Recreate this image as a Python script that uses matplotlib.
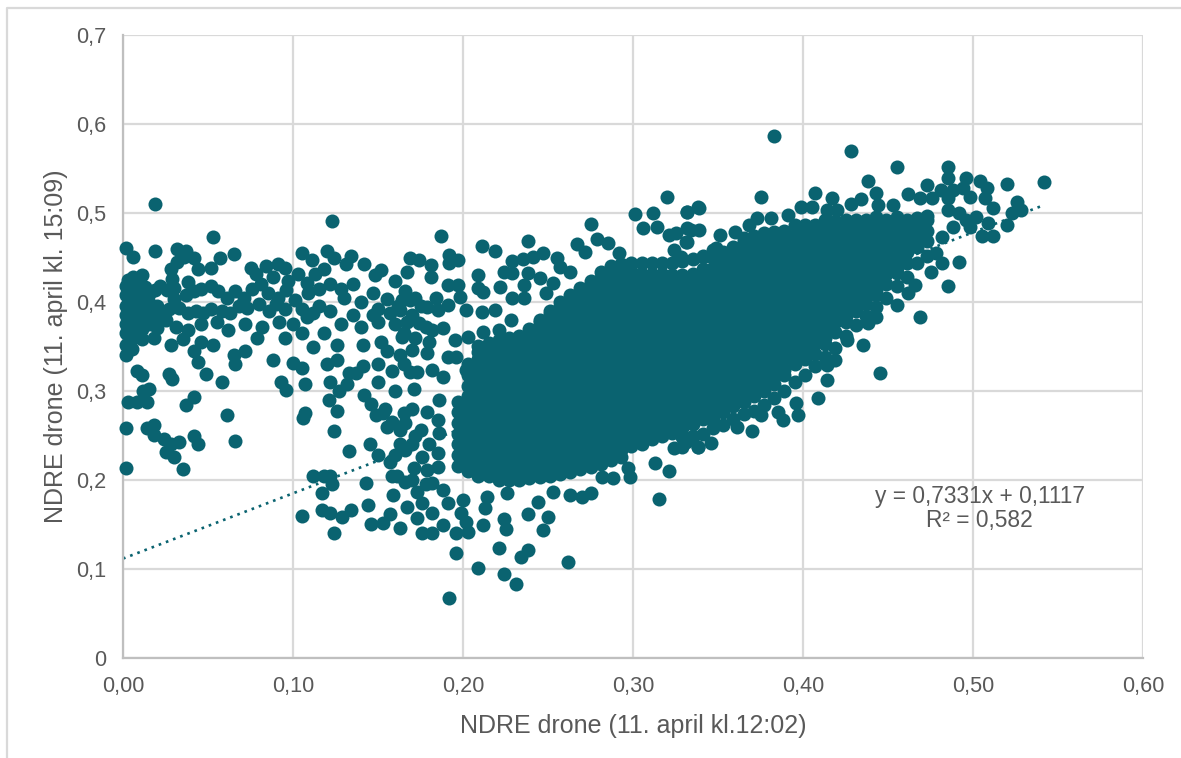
import matplotlib
matplotlib.use("Agg")
import matplotlib.pyplot as plt
from matplotlib.lines import Line2D

# All values in thousandths of NDRE
scattered = [
(19,510),(123,491),(2,461),(6,451),(19,457),(32,460),(37,457),(53,473),(57,450),(65,454),(42,449),(44,437),(52,438),(36,451),(32,445),(28,437),(29,426),(38,423),(30,416),(26,414),(22,418),(19,413),(15,409),(13,417),(11,430),(8,425),(6,428),(3,425),(2,418),(5,416),(9,412),(2,408),(6,402),(11,403),(2,395),(6,390),(11,393),(2,385),(7,382),(12,383),(2,375),(6,372),(11,370),(2,365),(6,360),(11,358),(2,352),(5,347),(2,341),(16,398),(20,395),(17,385),(22,383),(15,375),(20,371),(18,360),(27,392),(33,393),(38,388),(43,390),(47,388),(52,392),(58,390),(63,388),(68,395),(73,393),(30,403),(37,408),(42,412),(46,415),(52,418),(56,412),(61,404),(66,412),(71,405),(76,415),(81,420),(78,432),(75,438),(84,440),(91,443),(95,438),(105,455),(111,447),(120,457),(124,449),(134,452),(131,443),(118,437),(113,431),(103,432),(108,421),(97,424),(88,428),(85,410),(91,405),(96,413),(101,402),(109,410),(115,415),(122,420),(128,415),(135,420),(142,443),(148,430),(152,436),(160,424),(166,412),(172,405),
(3,288),(8,288),(8,322),(11,318),(12,300),(15,302),(14,288),(2,258),(2,214),(14,258),(18,262),(18,251),(24,246),(25,232),(28,240),(30,226),(33,243),(35,212),(37,284),(42,293),(42,250),(44,241),(27,319),(29,313),(44,333),(49,319),(58,310),(61,273),(66,244),(53,352),(46,355),(42,345),(65,340),(72,345),(79,360),(66,330),(88,335),(93,310),(96,301),(100,332),(105,326),(107,308),(107,275),(106,270),(105,160),(112,204),(117,166),(117,185),(122,163),(124,141),(129,158),(134,166),(118,205),(122,204),(123,195),(124,255),(126,277),(127,300),(121,290),(122,310),(126,335),(120,330),(126,352),(132,308),(137,320),(141,328),(149,273),(154,280),(145,240),(143,197),(144,172),(146,151),(153,152),(157,162),(159,183),(161,204),(157,220),(150,228),(133,233),(153,275),(163,240),(155,260),
(133,320),(141,352),(147,385),(150,378),(140,372),(135,385),(128,375),(122,390),(115,395),(108,383),(100,375),(92,378),(95,360),(105,365),(112,350),(118,365),(130,405),(140,400),(147,410),(155,403),(162,395),(170,385),(175,395),(160,375),(165,365),(155,345),(152,355),(165,275),(158,265),(192,67),(196,118),(209,101),(221,124),(224,94),(231,83),(234,113),(238,121),(262,108),(247,144),(250,158),(238,162),(224,156),(225,145),(315,179),
(187,474),(211,463),(219,457),(238,469),(275,488),(301,499),(312,500),(332,501),(320,518),(338,507),(306,483),(314,484),(321,475),(325,477),(332,467),(334,481),(324,458),(267,465),(272,456),(279,471),(285,466),(292,455),(247,455),(241,451),(235,448),(229,446),(224,434),(229,433),(222,417),(229,404),(236,404),(238,433),(245,427),(236,419),(255,449),(257,439),(263,434),(253,421),(249,410),(209,430),(209,416),(212,411),(192,453),(192,444),(197,447),(169,449),(174,447),(167,434),(181,442),(181,428),(191,419),(197,419),(184,404),(179,394),(185,391),(191,397),(198,406),(202,391),(211,389),(219,391),(228,380),(169,402),(164,402),(163,391),(174,376),(182,369),(188,371),(195,357),(203,361),(212,366),(221,369),(164,361),(170,346),(163,340),(179,343),(182,324),(191,338),(196,338),(202,324),(169,321),(173,321),(188,316),(171,302),(186,290),(170,280),(179,276),(185,267),(166,264),(175,256),(163,256),(186,253),(166,234),(176,226),(185,230),(171,213),(179,211),(166,198),(173,187),(182,197),(188,189),(176,174),(167,170),(182,163),(173,157),(188,149),(176,140),(182,140),(196,140),(203,142),(212,149),(163,146),(191,174),(200,178),(199,163),(202,153),(214,181),(213,169),(226,185),(244,175),(253,187),(263,183),(270,181),(275,185),(282,203),(288,202),(297,213),(298,203),(313,219),(321,210),(324,236),(331,243),(338,237),
(383,587),(428,570),(455,552),(485,552),(485,539),(438,536),(542,535),(520,533),(375,518),(407,522),(417,517),(443,522),(434,516),(428,510),(462,521),(473,531),(481,526),(488,526),(496,539),(504,536),(508,528),(494,528),(498,518),(507,517),(512,506),(526,512),(528,503),(523,500),(520,487),(505,474),(512,474),(509,489),(496,492),(502,495),(488,484),(498,484),(492,500),(485,503),(476,517),(492,445),(485,418),(482,444),(478,455),(475,434),(469,383),(455,397),(462,410),(466,419),(445,320),(435,352),(443,383),(438,376),(426,357),(419,335),(414,312),(414,329),(409,292),(397,273),(396,287),(388,267),(385,276),(370,255),(361,260),(375,273),(338,237),(346,242),(329,237),(339,506),(332,501),(339,481),(332,483),(331,467),(341,451),(328,451),(351,475),(360,479),(368,487),(373,494),(381,494),(391,498),(399,507),(405,507),(349,461),(414,503),(420,503),(444,509),(453,509),(469,517),(485,517),(482,473),
(150,392),(157,388),(167,378),(178,372),(172,360),(180,355),(150,330),(158,322),(165,330),(160,300),(150,310),(142,295),(146,285),(172,250),(180,240),(160,228),(170,240),(158,205),(170,200),(178,195),(185,215),(80,398),(86,390),(90,398),(95,392),(105,392),(112,388),(25,380),(31,372),(38,368),(46,375),(55,378),(35,358),(28,352),(62,368),(72,375),(82,372),
]
cloud_upper_rim = [(209,351),(215,354),(221,357),(227,360),(233,362),(239,370),(245,380),(251,390),(257,400),(263,408),(269,416),(275,424),(281,434),(287,440),(293,443),(299,444),(305,444),(311,444),(317,444),(323,444),(329,446),(335,448),(341,452),(347,458)]
cloud_lower_rim = [(221,200),(227,200),(233,200),(239,202),(245,203),(251,205),(257,207),(263,209),(269,212),(275,215),(281,218),(287,222),(293,226),(329,248),(335,250),(341,252),(347,258),(353,262),(359,268),(365,274),(371,278),(377,284),(383,292),(389,300),(395,310),(401,318),(407,328),(413,338),(419,348),(425,362),(431,374),(437,384),(443,394),(449,404),(455,418),(461,428),(467,444),(473,452)]
dense_x = [197,203,209,215,221,227,233,239,245,251,257,263,269,275,281,287,293,299,305,311,317,323,329,335,341,347,353,359,365,371,377,383,389,395,401,407,413,419,425,431,437,443,449,455,461,467,473]
dense_y = [
[216,228,240,252,264,276,288],
[210,222,234,246,258,270,282,294,306,318,330],
[204,216,228,240,252,264,276,288,300,312,324,336,344],
[205,210,222,234,246,258,270,282,294,306,318,330,342,347],
[206,216,228,240,252,264,276,288,300,312,324,336,348],
[210,222,234,246,258,270,282,294,306,318,330,342,354],
[208,216,228,240,252,264,276,288,300,312,324,336,348,357],
[210,222,234,246,258,270,282,294,306,318,330,342,354,366],
[211,216,228,240,252,264,276,288,300,312,324,336,348,360,372,377],
[213,222,234,246,258,270,282,294,306,318,330,342,354,366,378,387],
[216,228,240,252,264,276,288,300,312,324,336,348,360,372,384,396],
[217,222,234,246,258,270,282,294,306,318,330,342,354,366,378,390,402],
[220,228,240,252,264,276,288,300,312,324,336,348,360,372,384,396,408,412],
[222,234,246,258,270,282,294,306,318,330,342,354,366,378,390,402,414,420],
[228,240,252,264,276,288,300,312,324,336,348,360,372,384,396,408,420,427],
[230,234,246,258,270,282,294,306,318,330,342,354,366,378,390,402,414,426,434],
[234,240,252,264,276,288,300,312,324,336,348,360,372,384,396,408,420,432,435],
[238,246,258,270,282,294,306,318,330,342,354,366,378,390,402,414,426,435],
[241,252,264,276,288,300,312,324,336,348,360,372,384,396,408,420,432],
[246,258,270,282,294,306,318,330,342,354,366,378,390,402,414,426,432],
[249,252,264,276,288,300,312,324,336,348,360,372,384,396,408,420,432],
[253,258,270,282,294,306,318,330,342,354,366,378,390,402,414,426,430],
[258,264,276,288,300,312,324,336,348,360,372,384,396,408,420,430],
[263,270,282,294,306,318,330,342,354,366,378,390,402,414,426,432],
[268,276,288,300,312,324,336,348,360,372,384,396,408,420,432,437],
[270,282,294,306,318,330,342,354,366,378,390,402,414,426,438,450],
[276,288,300,312,324,336,348,360,372,384,396,408,420,432,444,456],
[283,294,306,318,330,342,354,366,378,390,402,414,426,438,450,462],
[288,300,312,324,336,348,360,372,384,396,408,420,432,444,456,468,472],
[294,306,318,330,342,354,366,378,390,402,414,426,438,450,462,474],
[300,312,324,336,348,360,372,384,396,408,420,432,444,456,468,477],
[308,318,330,342,354,366,378,390,402,414,426,438,450,462,474,479],
[318,324,336,348,360,372,384,396,408,420,432,444,456,468,480],
[330,342,354,366,378,390,402,414,426,438,450,462,474,486],
[336,348,360,372,384,396,408,420,432,444,456,468,480,486],
[342,354,366,378,390,402,414,426,438,450,462,474,486],
[353,360,372,384,396,408,420,432,444,456,468,480,492],
[366,378,390,402,414,426,438,450,462,474,486,491],
[378,384,396,408,420,432,444,456,468,480,492],
[390,402,414,426,438,450,462,474,486,492],
[398,408,420,432,444,456,468,480,492],
[408,414,426,438,450,462,474,486,495],
[420,432,444,456,468,480,492],
[433,438,450,462,474,486,495],
[444,456,468,480,492],
[462,474,486,494],
[468,480,492,497],
]
trend_x = [0.0, 0.54]
trend_y = [0.1117, 0.5076]
x_ticks = [0.0, 0.1, 0.2, 0.3, 0.4, 0.5, 0.6]
x_tick_labels = ["0,00", "0,10", "0,20", "0,30", "0,40", "0,50", "0,60"]
y_ticks = [0.0, 0.1, 0.2, 0.3, 0.4, 0.5, 0.6, 0.7]
y_tick_labels = ["0", "0,1", "0,2", "0,3", "0,4", "0,5", "0,6", "0,7"]

plt.rcParams["font.family"] = ["Liberation Sans", "DejaVu Sans"]
W, H = 1181, 758
TEAL = "#0a6370"
TXT = "#595959"
fig = plt.figure(figsize=(W / 100, H / 100), dpi=100)
ax = fig.add_axes([123 / W, 1 - 658 / H, 1020 / W, 623 / H])

# outer chart frame, cropped at the right and bottom of the picture
fig.add_artist(Line2D([7 / W, 7 / W, 1], [0, 1 - 8 / H, 1 - 8 / H], color="#d9d9d9", lw=1.6))

pairs = scattered + cloud_upper_rim + cloud_lower_rim
xs = [p[0] / 1000 for p in pairs]
ys = [p[1] / 1000 for p in pairs]
for cx, col in zip(dense_x, dense_y):
    xs += [cx / 1000] * len(col)
    ys += [v / 1000 for v in col]

ax.plot(trend_x, trend_y, color=TEAL, lw=1.9, ls=(0, (1, 1.9)), zorder=2)
ax.scatter(xs, ys, s=102, color=TEAL, linewidths=0, zorder=3, clip_on=False)

ax.set_xlim(0, 0.6)
ax.set_ylim(0, 0.7)
ax.set_xticks(x_ticks, x_tick_labels)
ax.set_yticks(y_ticks, y_tick_labels)
ax.grid(True, color="#d9d9d9", lw=1.6, zorder=0)
ax.set_axisbelow(True)
for side in ("top", "right"):
    ax.spines[side].set_visible(False)
for side in ("left", "bottom"):
    ax.spines[side].set_color("#bfbfbf")
    ax.spines[side].set_linewidth(1.6)
ax.tick_params(length=0, labelsize=15.6, labelcolor=TXT)
ax.tick_params(axis="y", pad=12)
ax.tick_params(axis="x", pad=13)
ax.set_xlabel("NDRE drone (11. april kl.12:02)", fontsize=18, color=TXT, labelpad=12)
ax.set_ylabel("NDRE drone (11. april kl. 15:09)", fontsize=18, color=TXT, labelpad=6)
ax.text(0.504, 0.181, "y = 0,7331x + 0,1117", fontsize=16.4, color=TXT, ha="center", va="center", zorder=4)
ax.text(0.504, 0.154, "R² = 0,582", fontsize=16.4, color=TXT, ha="center", va="center", zorder=4)

fig.savefig("out.png", dpi=100, facecolor="white")
